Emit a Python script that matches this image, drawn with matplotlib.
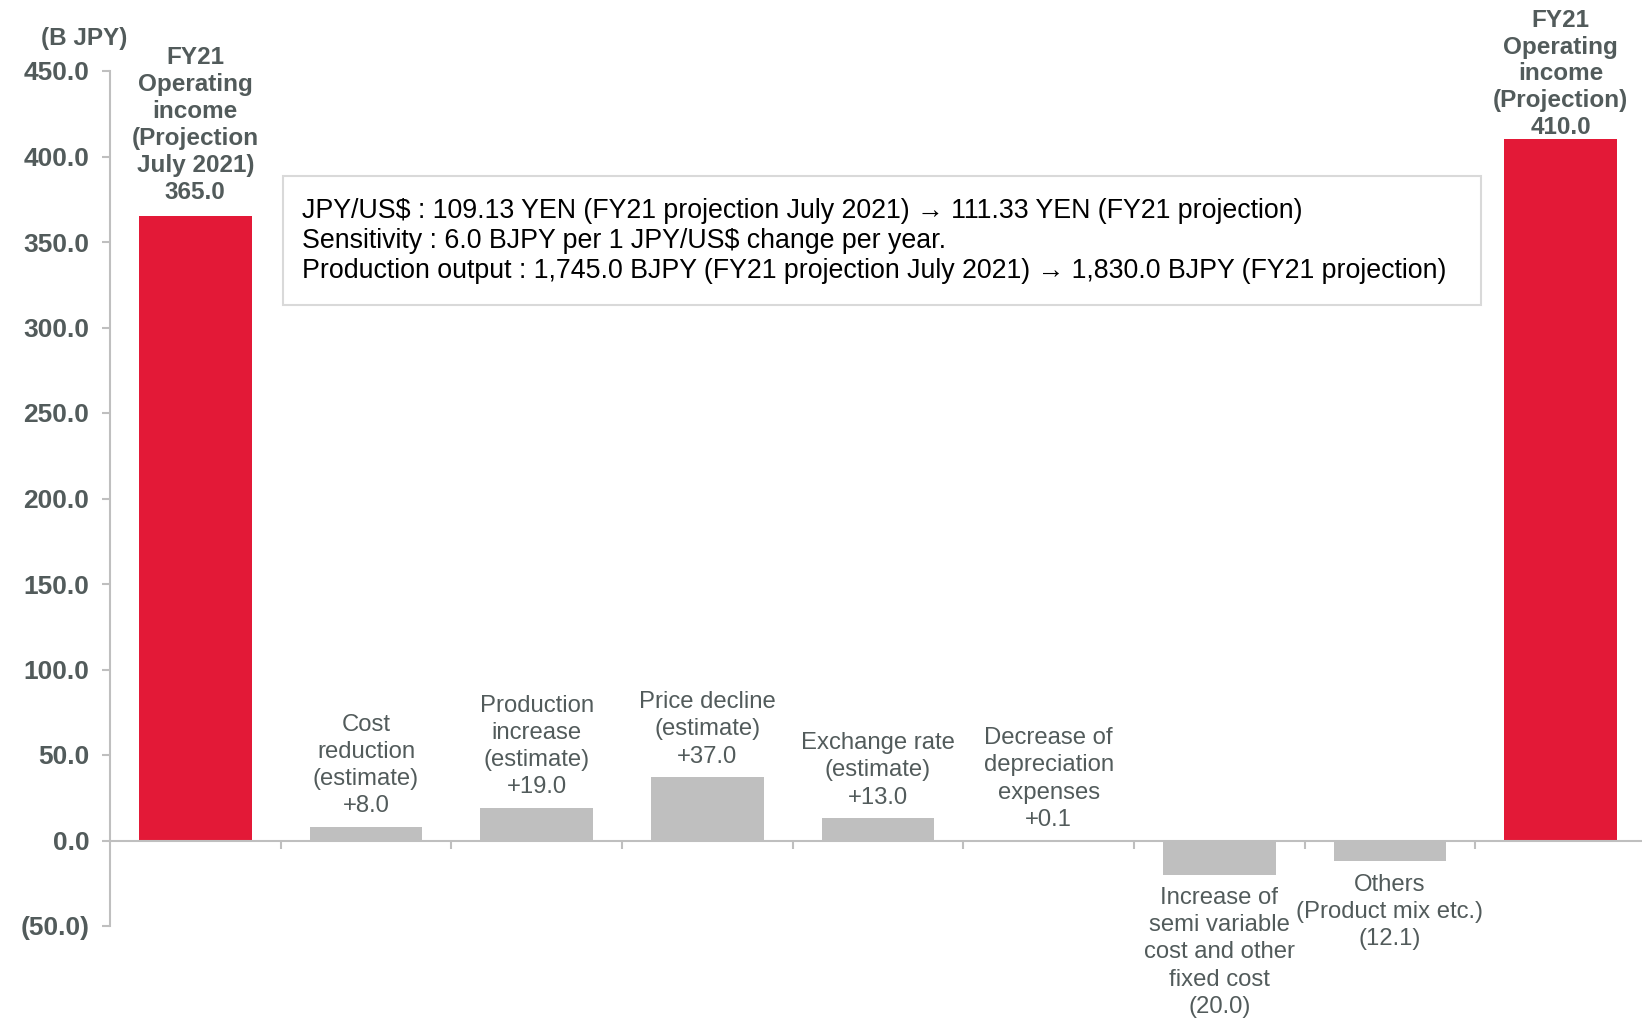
import matplotlib.pyplot as plt
from matplotlib.patches import Rectangle
from matplotlib.ticker import FuncFormatter

plt.rcParams['font.family'] = ['Liberation Sans', 'DejaVu Sans']

# data
labels = ["FY21\nOperating\nincome\n(Projection\nJuly 2021)",
          "Cost\nreduction\n(estimate)",
          "Production\nincrease\n(estimate)",
          "Price decline\n(estimate)",
          "Exchange rate\n(estimate)",
          "Decrease of\ndepreciation\nexpenses",
          "Increase of\nsemi variable\ncost and other\nfixed cost",
          "Others\n(Product mix etc.)",
          "FY21\nOperating\nincome\n(Projection)"]
values = [365.0, 8.0, 19.0, 37.0, 13.0, 0.1, -20.0, -12.1, 410.0]
is_total = [True, False, False, False, False, False, False, False, True]
yticks = [-50, 0, 50, 100, 150, 200, 250, 300, 350, 400, 450]
note_lines = ["JPY/US$ : 109.13 YEN (FY21 projection July 2021) \u2192 111.33 YEN (FY21 projection)",
              "Sensitivity : 6.0 BJPY per 1 JPY/US$ change per year.",
              "Production output : 1,745.0 BJPY (FY21 projection July 2021) \u2192 1,830.0 BJPY (FY21 projection)"]

RED = "#e31937"
GRAY = "#bfbfbf"
TXT = "#525b5b"

W, H = 1642, 1024
fig = plt.figure(figsize=(W/100, H/100), dpi=100)
ax = fig.add_axes([110/W, 98/H, 1536/W, 855/H])

x = list(range(len(values)))
colors = [RED if t else GRAY for t in is_total]
ax.bar(x, values, width=0.66, color=colors, zorder=2)

ax.set_xlim(-0.5, len(values) - 0.5)
ax.set_ylim(-50, 450)
ax.set_yticks(yticks)
ax.yaxis.set_major_formatter(FuncFormatter(
    lambda v, p: "(%.1f)" % abs(v) if v < 0 else "%.1f" % v))
ax.set_xticks([i + 0.5 for i in range(len(values) - 1)])
ax.set_xticklabels([])

for s in ["top", "right"]:
    ax.spines[s].set_visible(False)
ax.spines["bottom"].set_position(("data", 0))
ax.spines["bottom"].set_color(GRAY)
ax.spines["left"].set_color(GRAY)
ax.spines["bottom"].set_linewidth(1.5)
ax.spines["left"].set_linewidth(1.5)
ax.tick_params(axis="y", length=6, width=1.5, color=GRAY, pad=9,
               labelsize=19, labelcolor=TXT)
ax.tick_params(axis="x", length=6, width=1.5, color=GRAY, direction="out")
for t in ax.get_yticklabels():
    t.set_fontweight("bold")

for i, v in enumerate(values):
    if is_total[i]:
        txt = labels[i] + "\n%.1f" % v
        off = 0 if i == len(values) - 1 else 9
        ax.annotate(txt, (i, v), xytext=(0, off), textcoords="offset points",
                    ha="center", va="bottom", fontsize=17.5, fontweight="bold",
                    color=TXT, linespacing=1.22, annotation_clip=False)
    elif v >= 0:
        txt = labels[i] + "\n+%.1f" % v
        ax.annotate(txt, (i, v), xytext=(0, 7), textcoords="offset points",
                    ha="center", va="bottom", fontsize=17.2,
                    color=TXT, linespacing=1.3, annotation_clip=False)
    else:
        txt = labels[i] + "\n(%.1f)" % abs(v)
        ax.annotate(txt, (i, v), xytext=(0, -9), textcoords="offset points",
                    ha="center", va="top", fontsize=17.2,
                    color=TXT, linespacing=1.3, annotation_clip=False)

fig.text(84/W, 1 - 38/H, "(B JPY)", ha="center", va="center",
         fontsize=17.5, fontweight="bold", color=TXT)

# note box
fig.patches.append(Rectangle((283/W, 1 - 305/H), (1481-283)/W, (305-176)/H,
                             transform=fig.transFigure, facecolor="white",
                             edgecolor="#d9d9d9", linewidth=1.5, zorder=3))
fig.text(302/W, 1 - 241/H, "\n".join(note_lines), ha="left", va="center",
         fontsize=19.3, color="black", linespacing=1.2, zorder=4)

fig.savefig("out.png", dpi=100)
